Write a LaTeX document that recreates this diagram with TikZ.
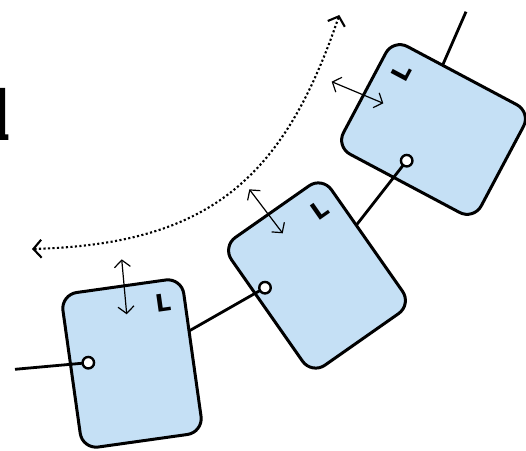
\documentclass[tikz,border=0pt]{standalone}
\usepackage{fontspec}
\newfontfamily\labfont{DejaVu Sans}
\usetikzlibrary{arrows.meta}
\definecolor{boxblue}{RGB}{197,224,245}
\tikzset{
  blk/.style={draw=black, fill=boxblue, line width=3pt, rounded corners=16pt,
    minimum width=122pt, minimum height=156pt, inner sep=0pt, shape=rectangle},
  wire/.style={line width=2.8pt},
  port/.style={circle, draw=black, fill=white, line width=2.4pt, minimum size=11.5pt, inner sep=0pt},
  lbl/.style={font=\labfont\bfseries\fontsize{24}{24}\selectfont, inner sep=0pt},
  move/.style={line width=1.2pt, {Straight Barb[length=7pt,width=16pt]}-{Straight Barb[length=7pt,width=16pt]}},
  swing/.style={line width=2.1pt, dash pattern=on 2.1pt off 2.4pt,
    {Straight Barb[length=8pt,width=18pt,line width=2.1pt]}-{Straight Barb[length=8pt,width=18pt,line width=2.1pt]}}
}
\begin{document}
\begin{tikzpicture}[x=1pt,y=1pt]
\useasboundingbox (0,0) rectangle (526,450);
% anchors
\coordinate (c1) at (132,86.5);
\coordinate (c2) at (317,174.5);
\coordinate (c3) at (433.5,320.5);
\coordinate (p1) at (88.3,87.3);
\coordinate (p2) at (265,162.3);
\coordinate (p3) at (406.7,289.3);
\coordinate (lend) at (15,80.7);
\coordinate (tstart) at (414.5,320.5);
\coordinate (tend) at (466,438.3);
% partial glyph at left edge
\fill (0,310) -- (8.3,310) -- (8.3,315.5) -- (5,315.5) -- (5,362) -- (0,362) -- cycle;
% dotted swing arc
\coordinate (arcA) at (339.3,435);
\coordinate (arcB) at (32,201);
\draw[swing] (arcB) .. controls (207,206) and (283,269) .. (arcA);
% chain, back to front
\draw[wire] (tstart) -- (tend);
\node[blk, rotate=62] (b3) at (c3) {};
\draw[wire] (p3) -- (c2);
\node[blk, rotate=35] (b2) at (c2) {};
\draw[wire] (p2) -- (c1);
\node[blk, rotate=8] (b1) at (c1) {};
\draw[wire] (lend) -- (p1);
\node[port] (o1) at (p1) {};
\node[port] (o2) at (p2) {};
\node[port] (o3) at (p3) {};
% labels
\node[lbl, rotate=8] (l1) at (163,147.5) {L};
\node[lbl, rotate=35] (l2) at (320,240) {L};
\node[lbl, rotate=62] (l3) at (401.5,377) {L};
% move arrows
\coordinate (m1a) at (121.7,190.7);
\coordinate (m1b) at (126.7,135.7);
\coordinate (m2a) at (249.3,260.7);
\coordinate (m2b) at (282.7,216.7);
\coordinate (m3a) at (331.7,368.3);
\coordinate (m3b) at (383.3,346.7);
\draw[move] (m1a) -- (m1b);
\draw[move] (m2a) -- (m2b);
\draw[move] (m3a) -- (m3b);
\end{tikzpicture}
\end{document}
